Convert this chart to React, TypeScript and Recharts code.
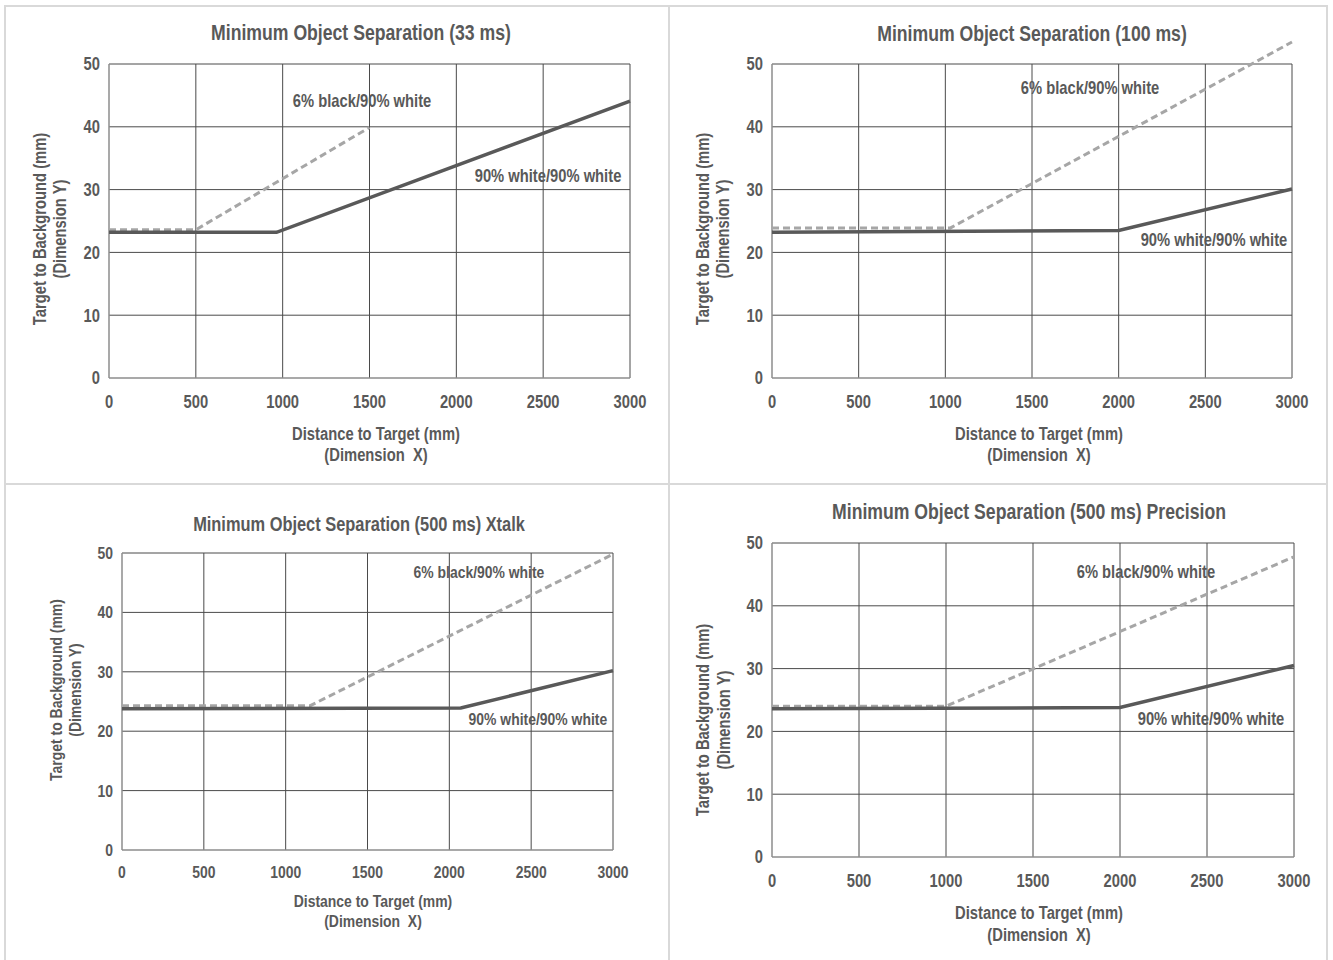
import { LineChart, Line, XAxis, YAxis, ReferenceLine, ReferenceDot } from "recharts";

// Quatro painéis de "Minimum Object Separation": linha sólida = 90% white/90% white,
// tracejada = 6% black/90% white. Eixo X em mm até o alvo, eixo Y em mm até o fundo.

const FONT = "'Liberation Sans', Arial, sans-serif";
const SX = 0.82; // sem Arial Narrow instalada: comprime a Liberation Sans na horizontal
const TEXT = "#595959";
const GRID = "#4a4a4a";
const AXIS = "#8c8c8c";

const X_TICKS = [0, 500, 1000, 1500, 2000, 2500, 3000];
const Y_TICKS = [0, 10, 20, 30, 40, 50];

const TITLES = [
  "Minimum Object Separation (33 ms)",
  "Minimum Object Separation (100 ms)",
  "Minimum Object Separation (500 ms) Xtalk",
  "Minimum Object Separation (500 ms) Precision",
];
const LABEL_WHITE = "90% white/90% white";
const LABEL_BLACK = "6% black/90% white";
const X_TITLE = ["Distance to Target (mm)", "(Dimension  X)"];
const Y_TITLE = ["Target to Background (mm)", "(Dimension Y)"];

// 33 ms
const X_33_WHITE = [0, 965, 3000];
const Y_33_WHITE = [23.2, 23.2, 44.1];
const X_33_BLACK = [0, 500, 1500];
const Y_33_BLACK = [23.6, 23.6, 39.9];
// 100 ms
const X_100_WHITE = [0, 2000, 3000];
const Y_100_WHITE = [23.2, 23.5, 30.1];
const X_100_BLACK = [0, 1030, 3000];
const Y_100_BLACK = [23.9, 23.9, 53.5];
// 500 ms Xtalk
const X_XT_WHITE = [0, 2070, 3000];
const Y_XT_WHITE = [23.8, 23.9, 30.2];
const X_XT_BLACK = [0, 1150, 3000];
const Y_XT_BLACK = [24.3, 24.3, 49.8];
// 500 ms Precision
const X_PR_WHITE = [0, 2000, 3000];
const Y_PR_WHITE = [23.6, 23.8, 30.5];
const X_PR_BLACK = [0, 1000, 3000];
const Y_PR_BLACK = [24.0, 24.0, 47.8];

const pts = (xs: number[], ys: number[]) => xs.map((x, i) => ({ x, y: ys[i] }));

type Painel = {
  title: string;
  white: { x: number; y: number }[];
  black: { x: number; y: number }[];
  box: [number, number, number, number]; // left, top, width, height (página)
  plot: [number, number, number, number]; // L, T(50), R, B(0) (página)
  yMax: number;
  font: number;
  titleFont: number;
  titleAt: [number, number];
  xTitleAt: [number, number, number]; // cx, y linha 1, y linha 2
  yTitleAt: [number, number, number]; // cy, x linha 1, x linha 2
  tickGap: number;
  whiteAt: [number, number];
  blackAt: [number, number];
};

const PAINEIS: Painel[] = [
  {
    title: TITLES[0], white: pts(X_33_WHITE, Y_33_WHITE), black: pts(X_33_BLACK, Y_33_BLACK),
    box: [6, 8, 662, 475], plot: [109, 64, 630, 378], yMax: 50, font: 18, titleFont: 21.5,
    titleAt: [361, 33], xTitleAt: [376, 434, 455], yTitleAt: [229, 40, 60], tickGap: 17,
    whiteAt: [2528, 32.3], blackAt: [1457, 44.1],
  },
  {
    title: TITLES[1], white: pts(X_100_WHITE, Y_100_WHITE), black: pts(X_100_BLACK, Y_100_BLACK),
    box: [671, 8, 655, 475], plot: [772, 64, 1292, 378], yMax: 55, font: 18, titleFont: 21.5,
    titleAt: [1032, 34], xTitleAt: [1039, 434, 455], yTitleAt: [229, 703, 723], tickGap: 17,
    whiteAt: [2550, 22.1], blackAt: [1835, 46.2],
  },
  {
    title: TITLES[2], white: pts(X_XT_WHITE, Y_XT_WHITE), black: pts(X_XT_BLACK, Y_XT_BLACK),
    box: [6, 486, 662, 474], plot: [122, 553, 613, 850], yMax: 50, font: 17, titleFont: 20,
    titleAt: [359, 524], xTitleAt: [373, 902, 922], yTitleAt: [690, 57, 76], tickGap: 16,
    whiteAt: [2541, 22.05], blackAt: [2181, 46.8],
  },
  {
    title: TITLES[3], white: pts(X_PR_WHITE, Y_PR_WHITE), black: pts(X_PR_BLACK, Y_PR_BLACK),
    box: [671, 486, 655, 474], plot: [772, 543, 1294, 857], yMax: 50, font: 18, titleFont: 21.5,
    titleAt: [1029, 512], xTitleAt: [1039, 913, 935], yTitleAt: [720, 703, 724], tickGap: 17,
    whiteAt: [2523, 22.1], blackAt: [2149, 45.5],
  },
];

const Y_AXIS_W = 60;
const X_AXIS_H = 40;

function NText({ x, y, anchor, dy, size, children }: { x: number; y: number; anchor: "start" | "middle" | "end"; dy: string; size: number; children: React.ReactNode }) {
  return (
    <text x={x} y={y} dy={dy} textAnchor={anchor} fill={TEXT} fontSize={size} fontWeight={700} fontFamily={FONT}
      transform={`translate(${x} 0) scale(${SX} 1) translate(${-x} 0)`}>
      {children}
    </text>
  );
}

function Grafico({ p }: { p: Painel }) {
  const [bl, bt, bw, bh] = p.box;
  const [L, T, R, B] = p.plot;
  const topo = T - ((p.yMax - 50) * (B - T)) / 50;
  const margin = {
    left: L - bl - Y_AXIS_W,
    top: topo - bt,
    right: bl + bw - R,
    bottom: bt + bh - B - X_AXIS_H,
  };
  const labelDot = (txt: string) => ({
    content: (lp: any) => (
      <NText x={lp.viewBox.x + (lp.viewBox.width || 0) / 2} y={lp.viewBox.y + (lp.viewBox.height || 0) / 2}
        anchor="middle" dy="0.355em" size={p.font}>{txt}</NText>
    ),
  });
  return (
    <div style={{ position: "absolute", left: bl, top: bt }}>
      <LineChart width={bw} height={bh} margin={margin}>
        <XAxis type="number" dataKey="x" domain={[0, 3000]} ticks={X_TICKS} interval={0}
          height={X_AXIS_H} tickLine={false} tickSize={0} tickMargin={p.tickGap}
          tick={(t: any) => <NText x={t.x} y={t.y} anchor="middle" dy="0.71em" size={p.font}>{t.payload.value}</NText>}
          axisLine={{ stroke: AXIS, strokeWidth: 1.5 }} />
        <YAxis type="number" domain={[0, p.yMax]} ticks={Y_TICKS} interval={0}
          width={Y_AXIS_W} tickLine={false} tickSize={0} tickMargin={9} axisLine={false}
          tick={(t: any) => <NText x={t.x} y={t.y} anchor="end" dy="0.355em" size={p.font}>{t.payload.value}</NText>} />
        {Y_TICKS.filter(v => v > 0).map(v => (
          <ReferenceLine key={"h" + v} segment={[{ x: 0, y: v }, { x: 3000, y: v }]} stroke={GRID} strokeWidth={1} />
        ))}
        {X_TICKS.map(v => (
          <ReferenceLine key={"v" + v} segment={[{ x: v, y: 0 }, { x: v, y: 50 }]}
            stroke={v === 0 ? AXIS : GRID} strokeWidth={v === 0 ? 1.5 : 1} />
        ))}
        <Line data={p.black} dataKey="y" name={LABEL_BLACK} stroke="#a6a6a6" strokeWidth={3}
          strokeDasharray="7 4" dot={false} activeDot={false} isAnimationActive={false} />
        <Line data={p.white} dataKey="y" name={LABEL_WHITE} stroke="#595959" strokeWidth={3.5}
          dot={false} activeDot={false} isAnimationActive={false} />
        <ReferenceDot x={p.blackAt[0]} y={p.blackAt[1]} r={0} fill="none" stroke="none" label={labelDot(LABEL_BLACK)} />
        <ReferenceDot x={p.whiteAt[0]} y={p.whiteAt[1]} r={0} fill="none" stroke="none" label={labelDot(LABEL_WHITE)} />
      </LineChart>
    </div>
  );
}

function Textos({ p }: { p: Painel }) {
  const base = { position: "absolute" as const, color: TEXT, fontWeight: 700, fontFamily: FONT, whiteSpace: "pre" as const, textAlign: "center" as const };
  const lh = 24;
  return (
    <>
      <div style={{ ...base, left: p.titleAt[0] - 300, top: p.titleAt[1] - lh / 2, width: 600, lineHeight: `${lh}px`, fontSize: p.titleFont, transform: `scaleX(${SX})` }}>
        {p.title}
      </div>
      {X_TITLE.map((t, i) => (
        <div key={t} style={{ ...base, left: p.xTitleAt[0] - 150, top: p.xTitleAt[1 + i] - lh / 2, width: 300, lineHeight: `${lh}px`, fontSize: p.font, transform: `scaleX(${SX})` }}>
          {t}
        </div>
      ))}
      {Y_TITLE.map((t, i) => (
        <div key={t} style={{ ...base, left: p.yTitleAt[1 + i] - 150, top: p.yTitleAt[0] - lh / 2, width: 300, lineHeight: `${lh}px`, fontSize: p.font, transform: `rotate(-90deg) scaleX(${SX})` }}>
          {t}
        </div>
      ))}
    </>
  );
}

export default function App() {
  const borda = "#d9d9d9";
  return (
    <div style={{ position: "absolute", left: 0, top: 0, width: 1333, height: 960, overflow: "hidden", background: "#fff", fontFamily: FONT }}>
      <div style={{ position: "absolute", left: 4, top: 5, width: 1324, height: 970, border: `2px solid ${borda}`, boxSizing: "border-box" }} />
      <div style={{ position: "absolute", left: 668, top: 5, width: 2, height: 960, background: borda }} />
      <div style={{ position: "absolute", left: 4, top: 483, width: 1324, height: 2, background: borda }} />
      {PAINEIS.map(p => <Grafico key={p.title} p={p} />)}
      {PAINEIS.map(p => <Textos key={p.title} p={p} />)}
    </div>
  );
}
